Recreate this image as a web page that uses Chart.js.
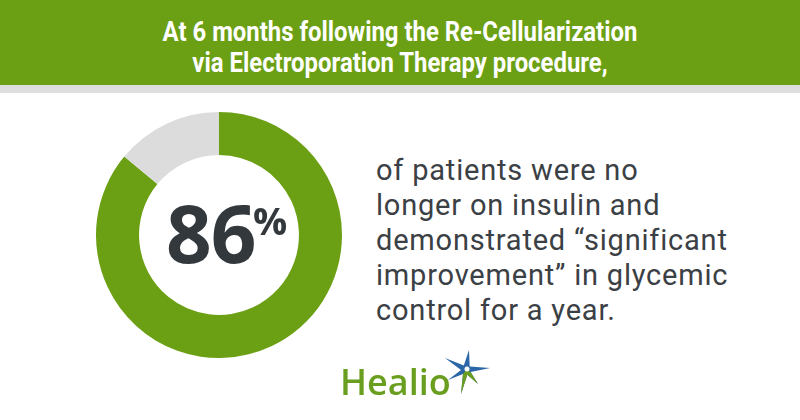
<!DOCTYPE html>
<html>
<head>
<meta charset="utf-8">
<script src="https://cdn.jsdelivr.net/npm/chart.js@4/dist/chart.umd.min.js"></script>
<style>
  body { margin: 0; width: 800px; height: 420px; background: #fff; position: relative; overflow: hidden; }
  #header { position: absolute; left: 0; top: 0; width: 800px; height: 85px; background: #6ca014; }
  #header div { color: #fff; font-family: "Roboto", sans-serif; font-weight: 700; font-size: 27px;
    text-align: center; line-height: 31px; transform: scaleX(0.885); }
  #band { position: absolute; left: 0; top: 85px; width: 800px; height: 8px; background: #dedede; }
  #donutBox { position: absolute; left: 96px; top: 112px; width: 246px; height: 246px; }
  #big { position: absolute; left: 166px; top: 192px; font-family: "Open Sans", sans-serif; font-weight: 700;
    font-size: 80px; line-height: 80px; color: #33383d; letter-spacing: -1px; }
  #pct { position: absolute; left: 253px; top: 200px; font-family: "Open Sans", sans-serif; font-weight: 700;
    font-size: 38px; line-height: 40px; color: #33383d; }
  #desc { position: absolute; left: 376px; top: 153px; font-family: "Roboto", sans-serif; font-size: 29px;
    line-height: 35px; color: #3b4045; letter-spacing: 0.8px; }
  #logo { position: absolute; left: 340px; top: 362px; font-family: "Open Sans", sans-serif; font-weight: 600;
    font-size: 36px; line-height: 40px; color: #6a9e1f; }
  #star { position: absolute; left: 436px; top: 348px; }
</style>
</head>
<body>
<div id="header">
  <div style="padding-top:17px">At 6 months following the Re-Cellularization</div>
  <div>via Electroporation Therapy procedure,</div>
</div>
<div id="band"></div>
<div id="donutBox"><canvas id="donut"></canvas></div>
<span id="big">86</span><span id="pct">%</span>
<div id="desc">of patients were no<br>longer on insulin and<br>demonstrated “significant<br>improvement” in glycemic<br>control for a year.</div>
<div id="logo">Healio</div>
<svg id="star" width="56" height="52" viewBox="0 0 56 52">
  <polygon points="9,10 27.8,17.5 33,2 33.7,18.6 54,20 34.6,23.9 42,36 31.3,26.8 25,46 27,26 12,32 25,22" fill="#2b67a6"/>
  <polygon points="34.6,23.9 42,36 31.3,26.8 25,46 27,26 30,22" fill="#6a9e1f"/>
  <circle cx="31" cy="21" r="2.5" fill="#ffffff"/>
</svg>
<script>
// share of patients no longer on insulin
const labels = ['No longer on insulin', 'Other'];
const values = [86, 14];
const colors = ['#6ca014', '#dcdcdc'];

new Chart(document.getElementById('donut'), {
  type: 'doughnut',
  data: {
    labels: labels,
    datasets: [{
      data: values,
      backgroundColor: colors,
      borderWidth: 0
    }]
  },
  options: {
    responsive: true,
    maintainAspectRatio: false,
    animation: false,
    cutout: '65%',
    layout: { padding: 0 },
    plugins: { legend: { display: false }, tooltip: { enabled: false } }
  }
});
</script>
</body>
</html>
